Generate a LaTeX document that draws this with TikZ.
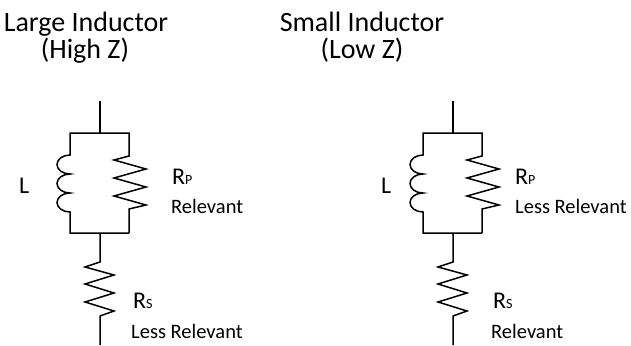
\documentclass[tikz,border=0pt]{standalone}
\usepackage{fontspec}
\setmainfont{Carlito}
\newcommand{\resname}[1]{{\fontsize{24}{29}\selectfont R}{\fontsize{14}{17}\selectfont #1}}
\tikzset{
  wire/.style={line width=1.5pt,line join=miter,black},
  title/.style={font=\fontsize{28}{34}\selectfont,anchor=base},
  symb/.style={anchor=base west,inner sep=0pt},
  note/.style={anchor=base west,inner sep=0pt,font=\fontsize{20.5}{24}\selectfont}
}
\begin{document}
\begin{tikzpicture}[x=1pt,y=-1pt]
\useasboundingbox (0,0) rectangle (631,345);
% titles
\node[title] (bigT) at (86,32) {Large Inductor};
\node[title] (bigZ) at (85,59) {(High Z)};
\node[title] (smallT) at (362,32) {Small Inductor};
\node[title] (smallZ) at (362,59) {(Low Z)};
% left circuit
\path[wire,draw] (100,101) to (100,133) ;
\path[wire,draw] (100,133) to (70,133) to (70,155)
 arc[start angle=-90,end angle=-270,x radius=13,y radius=9.5]
 arc[start angle=-90,end angle=-270,x radius=13,y radius=9.5]
 arc[start angle=-90,end angle=-270,x radius=13,y radius=9.5]
 to (70,233) to (129,233) ;
\path[wire,draw] (100,133) to (129,133) to (129,156)
 -- (114,160) -- (146,169) -- (114,178) -- (146,187)
 -- (114,196) -- (146,205) -- (129,209) to (129,233) ;
\path[wire,draw] (100,233) to (100,262)
 -- (85,267) -- (114,275) -- (85,284) -- (114,293)
 -- (85,302) -- (114,311) -- (100,316) to (100,345) ;
% right circuit
\path[wire,xshift=353pt,draw] (100,101) to (100,133) ;
\path[wire,xshift=353pt,draw] (100,133) to (70,133) to (70,155)
 arc[start angle=-90,end angle=-270,x radius=13,y radius=9.5]
 arc[start angle=-90,end angle=-270,x radius=13,y radius=9.5]
 arc[start angle=-90,end angle=-270,x radius=13,y radius=9.5]
 to (70,233) to (129,233) ;
\path[wire,xshift=353pt,draw] (100,133) to (129,133) to (129,156)
 -- (114,160) -- (146,169) -- (114,178) -- (146,187)
 -- (114,196) -- (146,205) -- (129,209) to (129,233) ;
\path[wire,xshift=353pt,draw] (100,233) to (100,262)
 -- (85,267) -- (114,275) -- (85,284) -- (114,293)
 -- (85,302) -- (114,311) -- (100,316) to (100,345) ;
% labels
\node[symb,font=\fontsize{24}{29}\selectfont] (bigL) at (19,193) {L};
\node[symb] (bigRP) at (172,184) {\resname{P}};
\node[note] (bigRPtxt) at (171,213) {Relevant};
\node[symb] (bigRS) at (133,308) {\resname{S}};
\node[note] (bigRStxt) at (131,338) {Less Relevant};
\node[symb,font=\fontsize{24}{29}\selectfont] (smallL) at (381,193) {L};
\node[symb] (smallRP) at (515,184) {\resname{P}};
\node[note] (smallRPtxt) at (515,213) {Less Relevant};
\node[symb] (smallRS) at (493,308) {\resname{S}};
\node[note] (smallRStxt) at (491,338) {Relevant};
\end{tikzpicture}
\end{document}
